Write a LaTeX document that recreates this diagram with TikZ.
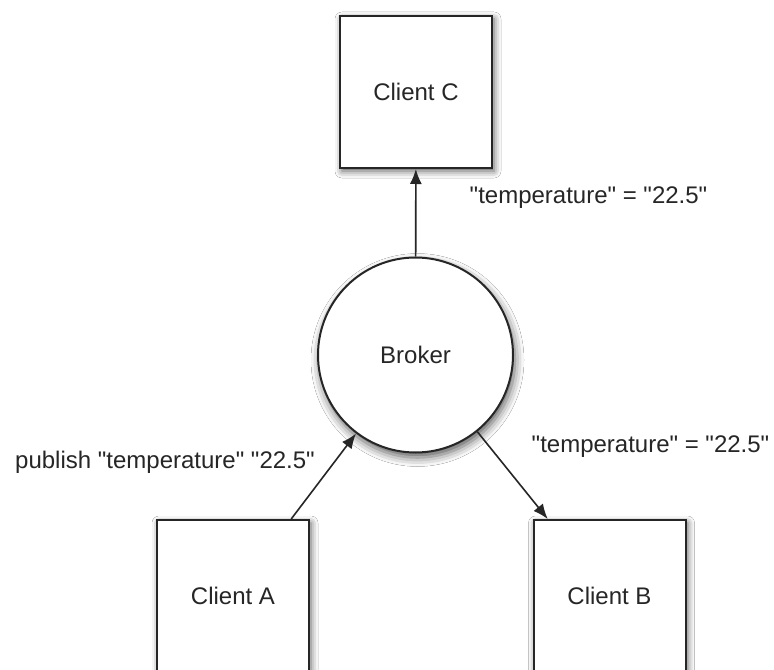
\documentclass[tikz,border=0pt]{standalone}
\usepackage{fontspec}
\setmainfont{Liberation Sans}[Ligatures=TeXOff]
\usetikzlibrary{arrows.meta,shadows.blur}
\begin{document}
\begin{tikzpicture}[x=1bp,y=-1bp,
  lbl/.style={font=\fontsize{24bp}{29bp}\selectfont, text=black!85, inner sep=0pt},
  client/.style={draw=black!85, line width=2bp, fill=white, minimum width=152bp, minimum height=152bp, inner sep=0pt, lbl,
    blur shadow={shadow xshift=2bp, shadow yshift=-3bp, shadow blur radius=7bp, shadow opacity=65}},
  brokerstyle/.style={circle, draw=black!85, line width=2bp, fill=white, minimum size=195bp, inner sep=0pt, lbl,
    blur shadow={shadow xshift=2bp, shadow yshift=-5bp, shadow blur radius=9bp, shadow opacity=65}},
  conn/.style={draw=black!85, line width=1.6bp, -{Latex[length=15bp,width=12bp]}}]
\useasboundingbox[fill=white] (0,0) rectangle (774,670);
\node[client] (C) at (416,92) {Client C};
\node[brokerstyle] (broker) at (415.5,355) {Broker};
\node[client] (A) at (233,596) {Client A};
\node[client] (B) at (609.5,596) {Client B};
\draw[conn] (broker) -- (C);
\draw[conn] (A) -- (broker);
\draw[conn] (broker) -- (B);
\node[lbl] (l1) at (588.5,198) {"temperature" = "22.5"};
\node[lbl] (l2) at (650.5,447) {"temperature" = "22.5"};
\node[lbl] (l3) at (165,462) {publish "temperature" "22.5"};
\end{tikzpicture}
\end{document}
